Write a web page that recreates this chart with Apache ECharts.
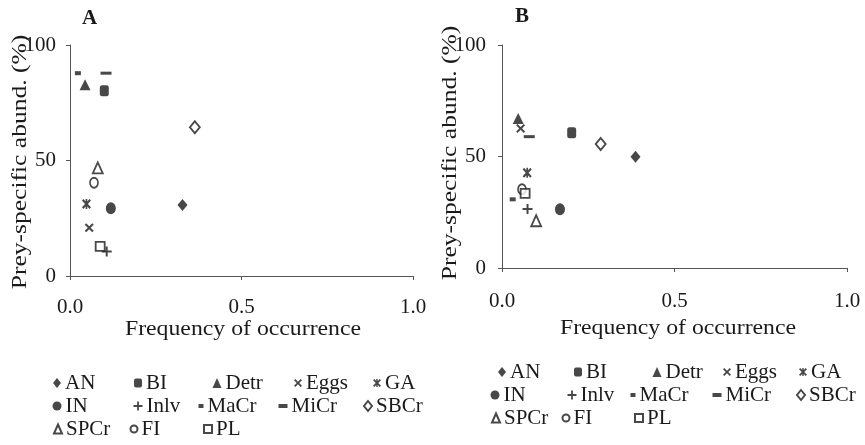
<!DOCTYPE html>
<html>
<head>
<meta charset="utf-8">
<title>Prey-specific abundance vs frequency of occurrence</title>
<script src="https://cdn.jsdelivr.net/npm/echarts@6/dist/echarts.min.js"></script>
<style>
  html, body { margin: 0; padding: 0; background: #ffffff; }
  #chart { width: 865px; height: 445px; }
</style>
</head>
<body>
<div id="chart"></div>
<script>
// Prey categories
const preyNames = ['AN', 'BI', 'Detr', 'Eggs', 'GA', 'IN', 'Inlv', 'MaCr', 'MiCr', 'SBCr', 'SPCr', 'FI', 'PL'];

// Panel A: frequency of occurrence and prey-specific abundance (%)
const freqA  = [0.328, 0.100, 0.044, 0.056, 0.048, 0.119, 0.107, 0.023, 0.105, 0.364, 0.081, 0.070, 0.088];
const abundA = [30.7, 80.2, 82.8, 20.9, 31.2, 29.3, 10.6, 87.8, 87.8, 64.4, 46.8, 40.4, 12.8];

// Panel B
const freqB  = [0.387, 0.202, 0.047, 0.054, 0.073, 0.168, 0.074, 0.031, 0.079, 0.286, 0.099, 0.058, 0.067];
const abundB = [49.9, 60.7, 67.0, 62.6, 42.7, 26.3, 26.5, 30.8, 58.9, 55.6, 21.2, 35.3, 33.5];

// Axis ticks
const xTicks = [0, 0.5, 1.0];
const yTicks = [0, 50, 100];

const INK = '#1a1a1a';
const AXIS = '#555555';
const FONT = '"Liberation Serif", "Times New Roman", serif';

// Marker shapes drawn as filled outlines
const crossPath = 'path://M1.6,0 L5,3.4 L8.4,0 L10,1.6 L6.6,5 L10,8.4 L8.4,10 L5,6.6 L1.6,10 L0,8.4 L3.4,5 L0,1.6 Z';
const plusPath  = 'path://M4,0 L6,0 L6,4 L10,4 L10,6 L6,6 L6,10 L4,10 L4,6 L0,6 L0,4 L4,4 Z';
const starPath  = 'path://M1.6,0 L5,3.4 L8.4,0 L10,1.6 L6.6,5 L10,8.4 L8.4,10 L5,6.6 L1.6,10 L0,8.4 L3.4,5 L0,1.6 Z M4.1,0 L5.9,0 L5.9,10 L4.1,10 Z';

const markerStyle = {
  AN:   { symbol: 'diamond',  size: [10, 12], hollow: false, icon: [8, 10] },
  BI:   { symbol: 'roundRect', size: [9, 11], hollow: false, icon: [8, 9] },
  Detr: { symbol: 'triangle', size: [11, 11], hollow: false, icon: [9, 10] },
  Eggs: { symbol: crossPath,  size: [9, 9],   hollow: false, icon: [8, 8] },
  GA:   { symbol: starPath,   size: [9, 10],  hollow: false, icon: [8, 9] },
  IN:   { symbol: 'circle',   size: [10, 12], hollow: false, icon: [9, 11] },
  Inlv: { symbol: plusPath,   size: [10, 10], hollow: false, icon: [9, 9] },
  MaCr: { symbol: 'rect',     size: [6, 4],   hollow: false, icon: [5, 4] },
  MiCr: { symbol: 'rect',     size: [11, 3],  hollow: false, icon: [9, 4] },
  SBCr: { symbol: 'diamond',  size: [10, 12], hollow: true,  icon: [8, 10] },
  SPCr: { symbol: 'triangle', size: [10, 11], hollow: true,  icon: [8, 9] },
  FI:   { symbol: 'circle',   size: [8, 10],  hollow: true,  icon: [7, 9] },
  PL:   { symbol: 'rect',     size: [9, 9],   hollow: true,  icon: [8, 8] }
};

function buildSeries(freq, abund, axisIndex) {
  return preyNames.map(function (name, i) {
    const m = markerStyle[name];
    return {
      name: name,
      type: 'scatter',
      xAxisIndex: axisIndex,
      yAxisIndex: axisIndex,
      symbol: m.symbol,
      symbolSize: m.size,
      itemStyle: m.hollow
        ? { color: '#ffffff', borderColor: INK, borderWidth: 1.8 }
        : { color: INK, borderWidth: 0 },
      emphasis: { disabled: true },
      data: [[freq[i], abund[i]]]
    };
  });
}

// Legend grid: three rows of prey names under each panel
const legendRows = [
  ['AN', 'BI', 'Detr', 'Eggs', 'GA'],
  ['IN', 'Inlv', 'MaCr', 'MiCr', 'SBCr'],
  ['SPCr', 'FI', 'PL']
];
const legendColsA = [[57, 138, 217, 298, 377], [57, 138, 201, 283, 367], [57, 133, 207]];
const legendColsB = [[502, 578, 657, 727, 803], [495, 572, 633, 717, 800], [495, 565, 638]];
const legendRowYA = [383, 406, 429];
const legendRowYB = [372, 395, 418];

function buildLegends(cols, rowY) {
  const out = [];
  legendRows.forEach(function (row, r) {
    row.forEach(function (name, c) {
      const ic = markerStyle[name].icon;
      out.push({
        left: cols[r][c] - ic[0] / 2,
        top: rowY[r] - 11,
        padding: 0,
        itemWidth: ic[0],
        itemHeight: ic[1],
        itemGap: 0,
        selectedMode: false,
        data: [name],
        textStyle: { fontFamily: FONT, fontSize: 21, color: INK, lineHeight: 22, padding: [0, 0, 0, -1] }
      });
    });
  });
  return out;
}

function xAxisFor(gridIndex, margin) {
  return {
    gridIndex: gridIndex,
    type: 'value',
    min: xTicks[0],
    max: xTicks[xTicks.length - 1],
    interval: xTicks[1] - xTicks[0],
    axisLine: { lineStyle: { color: AXIS, width: 1 } },
    axisTick: { show: true, length: 4, lineStyle: { color: AXIS } },
    splitLine: { show: false },
    axisLabel: {
      margin: margin,
      fontFamily: FONT, fontSize: 21, color: INK,
      formatter: function (v) { return v.toFixed(1); }
    }
  };
}

function yAxisFor(gridIndex, margin) {
  return {
    gridIndex: gridIndex,
    type: 'value',
    min: yTicks[0],
    max: yTicks[yTicks.length - 1],
    interval: yTicks[1] - yTicks[0],
    axisLine: { show: true, lineStyle: { color: AXIS, width: 1 } },
    axisTick: { show: true, length: 4, lineStyle: { color: AXIS } },
    splitLine: { show: false },
    axisLabel: { margin: margin, fontFamily: FONT, fontSize: 21, color: INK }
  };
}

const xTitle = 'Frequency of occurrence';
const yTitle = 'Prey-specific abund. (%)';

function axisTitle(text, x, y, rotated, stretch) {
  return {
    type: 'text',
    x: x,
    y: y,
    rotation: rotated ? Math.PI / 2 : 0,
    scaleX: stretch,
    silent: true,
    style: {
      text: text,
      font: '22px ' + FONT,
      fill: INK,
      textAlign: 'center',
      textVerticalAlign: 'middle'
    }
  };
}

const chart = echarts.init(document.getElementById('chart'), null, { renderer: 'canvas' });

chart.setOption({
  backgroundColor: '#ffffff',
  animation: false,
  title: [
    { text: 'A', left: 82, top: 8, padding: 0, textStyle: { fontFamily: FONT, fontSize: 21, fontWeight: 'bold', color: INK } },
    { text: 'B', left: 515, top: 6, padding: 0, textStyle: { fontFamily: FONT, fontSize: 21, fontWeight: 'bold', color: INK } }
  ],
  grid: [
    { left: 70, top: 45, width: 343, height: 231 },
    { left: 502, top: 45, width: 345, height: 223 }
  ],
  xAxis: [xAxisFor(0, 21), xAxisFor(1, 23)],
  yAxis: [yAxisFor(0, 14), yAxisFor(1, 16)],
  legend: buildLegends(legendColsA, legendRowYA).concat(buildLegends(legendColsB, legendRowYB)),
  graphic: [
    axisTitle(xTitle, 243, 329, false, 1.08),
    axisTitle(xTitle, 678, 328, false, 1.08),
    axisTitle(yTitle, 20, 162, true, 1.16),
    axisTitle(yTitle, 450, 153, true, 1.16)
  ],
  series: buildSeries(freqA, abundA, 0).concat(buildSeries(freqB, abundB, 1))
});
</script>
</body>
</html>
